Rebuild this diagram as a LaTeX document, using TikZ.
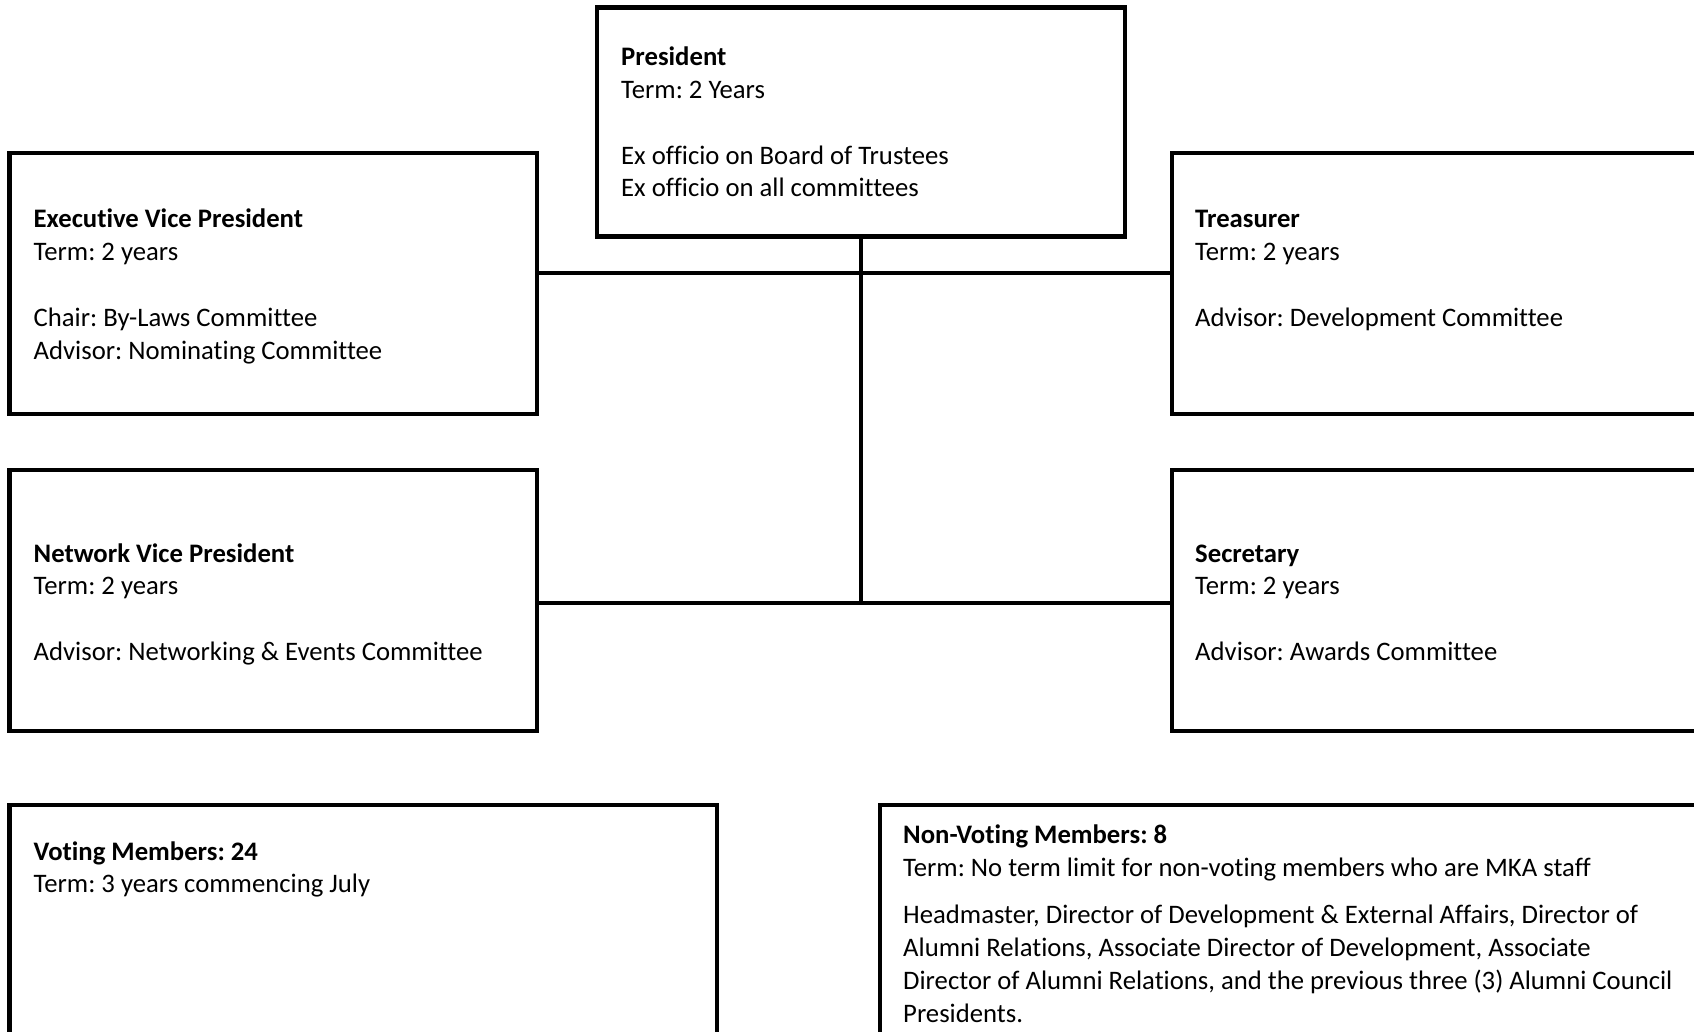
\documentclass[tikz,border=0pt]{standalone}
\usepackage{fontspec}
\setmainfont[Ligatures=NoCommon]{Carlito}
\begin{document}
\frenchspacing
\begin{tikzpicture}[x=1pt,y=-1pt,
  box/.style={draw=black,line width=4.5pt,fill=none},
  conn/.style={draw=black,line width=4.3pt},
  txt/.style={inner sep=0pt,anchor=base west,font=\frenchspacing\fontsize{26.7}{32}\selectfont}]
\useasboundingbox (0,0) rectangle (1694,1032);
\fill[white] (0,0) rectangle (1694,1032);
% boxes
\draw[box] (597,7.6) rectangle (1125,236.6);
\coordinate (pres) at (861,236.6);
\draw[box] (9.7,153) rectangle (537,414);
\coordinate (evp) at (537,273);
\draw[box] (1172,153) rectangle (1702,414);
\coordinate (tre) at (1172,273);
\draw[box] (9.7,470) rectangle (537,731);
\coordinate (nvp) at (537,603);
\draw[box] (1172,470) rectangle (1702,731);
\coordinate (sec) at (1172,603);
\draw[box] (9.7,805) rectangle (717,1045);
\draw[box] (880,805) rectangle (1702,1045);
% connectors
\coordinate (junc) at (861,603);
\draw[conn] (pres) -- (junc);
\draw[conn] (evp) -- (tre);
\draw[conn] (nvp) -- (sec);
% President
\node[txt] (p1) at (621,66) {\textbf{President}};
\node[txt] (p2) at (621,98.5) {Term: 2 Years};
\node[txt] (p3) at (621,164.5) {Ex officio on Board of Trustees};
\node[txt] (p4) at (621,197) {Ex officio on all committees};
% Exec VP
\node[txt] (e1) at (33.5,228) {\textbf{Executive Vice President}};
\node[txt] (e2) at (33.5,261) {Term: 2 years};
\node[txt] (e3) at (33.5,326.6) {Chair: By-Laws Committee};
\node[txt] (e4) at (33.5,359) {Advisor: Nominating Committee};
% Treasurer
\node[txt] (t1) at (1195,228) {\textbf{Treasurer}};
\node[txt] (t2) at (1195,261) {Term: 2 years};
\node[txt] (t3) at (1195,326.6) {Advisor: Development Committee};
% Network VP
\node[txt] (n1) at (33.5,562) {\textbf{Network Vice President}};
\node[txt] (n2) at (33.5,594) {Term: 2 years};
\node[txt] (n3) at (33.5,660.4) {Advisor: Networking \& Events Committee};
% Secretary
\node[txt] (s1) at (1195,562) {\textbf{Secretary}};
\node[txt] (s2) at (1195,594) {Term: 2 years};
\node[txt] (s3) at (1195,660.4) {Advisor: Awards Committee};
% Voting
\node[txt] (v1) at (33.5,860) {\textbf{Voting Members: 24}};
\node[txt] (v2) at (33.5,892.4) {Term: 3 years commencing July};
% Non-voting
\node[txt] (w1) at (903,843.6) {\textbf{Non-Voting Members: 8}};
\node[txt] (w2) at (903,876.2) {Term: No term limit for non-voting members who are MKA staff};
\node[txt] (w3) at (903,923.6) {Headmaster, Director of Development \& External Affairs, Director of};
\node[txt] (w4) at (903,956.1) {Alumni Relations, Associate Director of Development, Associate};
\node[txt] (w5) at (903,989.6) {Director of Alumni Relations, and the previous three (3) Alumni Council};
\node[txt] (w6) at (903,1022) {Presidents.};
\end{tikzpicture}
\end{document}
